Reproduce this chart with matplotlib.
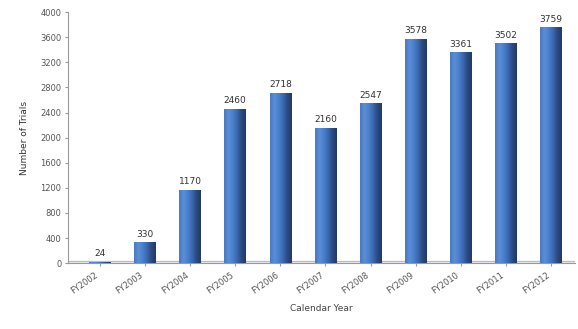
import numpy as np
import matplotlib.pyplot as plt
from matplotlib.colors import LinearSegmentedColormap

# dados por ano
anos = ["FY2002", "FY2003", "FY2004", "FY2005", "FY2006", "FY2007",
        "FY2008", "FY2009", "FY2010", "FY2011", "FY2012"]
valores = [24, 330, 1170, 2460, 2718, 2160, 2547, 3578, 3361, 3502, 3759]
y_ticks = [0, 400, 800, 1200, 1600, 2000, 2400, 2800, 3200, 3600, 4000]

fig = plt.figure(figsize=(5.78, 3.29), dpi=100)
ax = fig.add_axes([0.118, 0.200, 0.877, 0.763])

x = np.arange(len(anos))
largura = 0.48

# gradiente horizontal para dar aspecto de cilindro
cmap = LinearSegmentedColormap.from_list(
    "cil", ["#4a78c0", "#5a8fd8", "#4a7fcb", "#3a68b0", "#2a4a80", "#223a66"])
grad = np.linspace(0, 1, 64).reshape(1, -1)

barras = ax.bar(x, valores, width=largura, color="none", edgecolor="none", zorder=3)
for b in barras:
    x0, y0 = b.get_x(), b.get_y()
    w, h = b.get_width(), b.get_height()
    im = ax.imshow(grad, cmap=cmap, aspect="auto", extent=[x0, x0 + w, y0, y0 + h],
                   zorder=3, interpolation="bilinear")
    im.set_clip_path(b)

# rótulos de valor sobre as barras
for xi, v in zip(x, valores):
    ax.text(xi, v + 60, f"{v}", ha="center", va="bottom", fontsize=6.5, color="#333333")

# piso em perspectiva
ax.axhspan(0, 40, color="#e6e9ee", zorder=1)
ax.axhline(40, color="#b8bcc4", linewidth=0.8, zorder=2)

ax.set_xlim(-0.7, len(anos) - 0.47)
ax.set_ylim(0, 4000)
ax.set_yticks(y_ticks)
ax.set_yticklabels([str(t) for t in y_ticks], fontsize=6, color="#555555")
ax.set_xticks(x)
ax.set_xticklabels(anos, rotation=35, ha="right", fontsize=6, color="#555555")
ax.tick_params(axis="both", length=2, color="#999999", pad=3)

for lado in ["top", "right"]:
    ax.spines[lado].set_visible(False)
ax.spines["left"].set_color("#999999")
ax.spines["bottom"].set_color("#999999")

ax.set_xlabel("Calendar Year", fontsize=6.5, color="#444444", labelpad=6)
ax.set_ylabel("Number of Trials", fontsize=6.5, color="#333333", labelpad=8)

fig.savefig("out.png", dpi=100)
